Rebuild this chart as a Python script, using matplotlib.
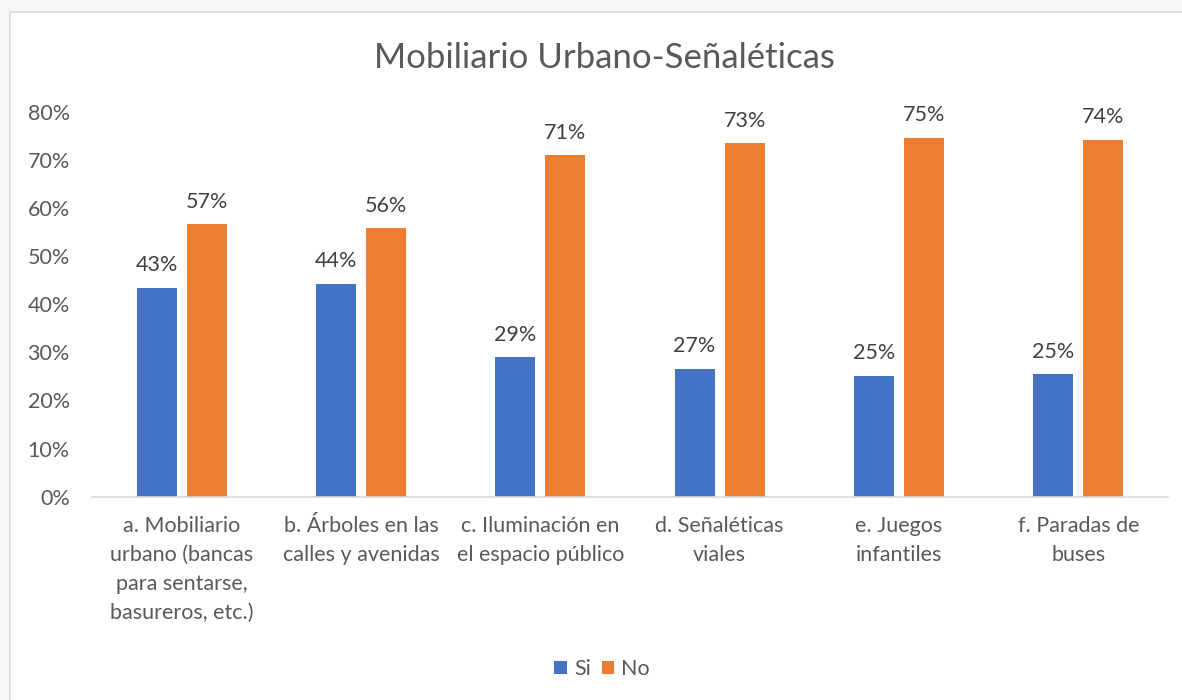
import numpy as np
import matplotlib.pyplot as plt
from matplotlib.patches import Rectangle

categories = [
    "a. Mobiliario\nurbano (bancas\npara sentarse,\nbasureros, etc.)",
    "b. Árboles en las\ncalles y avenidas",
    "c. Iluminación en\nel espacio público",
    "d. Señaléticas\nviales",
    "e. Juegos\ninfantiles",
    "f. Paradas de\nbuses",
]
si = [43.4, 44.2, 29.0, 26.6, 25.1, 25.4]
no = [56.6, 55.8, 71.0, 73.4, 74.6, 74.2]
yticks = [0, 10, 20, 30, 40, 50, 60, 70, 80]

BLUE = "#4472C4"
ORANGE = "#ED7D31"
GREY_TXT = "#595959"
LBL_TXT = "#404040"
FS = 15.5

plt.rcParams["font.family"] = ["Lato", "DejaVu Sans"]

fig = plt.figure(figsize=(11.82, 7.0), dpi=100)
fig.patch.set_facecolor("#f7f7f7")
# marco del área del gráfico
fig.patches.append(Rectangle((10 / 1182, -0.1), 1.2, 1 - 12 / 700 + 0.1,
                             transform=fig.transFigure, facecolor="white",
                             edgecolor="#d9d9d9", linewidth=1.2, zorder=-10))

ax = fig.add_axes([92 / 1182, 1 - 496.7 / 700, 1076 / 1182, 385 / 700])
ax.set_facecolor("none")
ax.set_zorder(5)

x = np.arange(len(categories))
w = 0.223
off = 0.14
b1 = ax.bar(x - off, si, w, color=BLUE, label="Si", zorder=2)
b2 = ax.bar(x + off, no, w, color=ORANGE, label="No", zorder=2)

for bars in (b1, b2):
    for r in bars:
        h = r.get_height()
        ax.annotate(f"{h:.0f}%", (r.get_x() + r.get_width() / 2, h),
                    xytext=(0, 9), textcoords="offset points",
                    ha="center", va="bottom", fontsize=FS, color=LBL_TXT)

ax.set_xlim(-0.5, len(categories) - 0.5)
ax.set_ylim(0, 80)
ax.set_yticks(yticks)
ax.set_yticklabels([f"{v}%" for v in yticks], fontsize=FS, color=GREY_TXT)
ax.set_xticks(x)
ax.set_xticklabels(categories, fontsize=FS, color=GREY_TXT, linespacing=1.55)
ax.tick_params(axis="both", length=0)
ax.tick_params(axis="y", pad=16)
ax.tick_params(axis="x", pad=14)

for s in ("top", "right", "left"):
    ax.spines[s].set_visible(False)
ax.spines["bottom"].set_color("#d9d9d9")
ax.spines["bottom"].set_linewidth(1.2)

fig.text(604 / 1182, 1 - 58 / 700, "Mobiliario Urbano-Señaléticas",
         ha="center", va="center", fontsize=25, color=GREY_TXT)

fig.legend(handles=[b1, b2], labels=["Si", "No"], loc="center",
           bbox_to_anchor=(602 / 1182, 1 - 669 / 700), ncol=2, frameon=False,
           fontsize=FS, labelcolor=GREY_TXT, handlelength=0.6,
           handleheight=0.6, handletextpad=0.3, columnspacing=0.5)

fig.savefig("out.png", dpi=100)
